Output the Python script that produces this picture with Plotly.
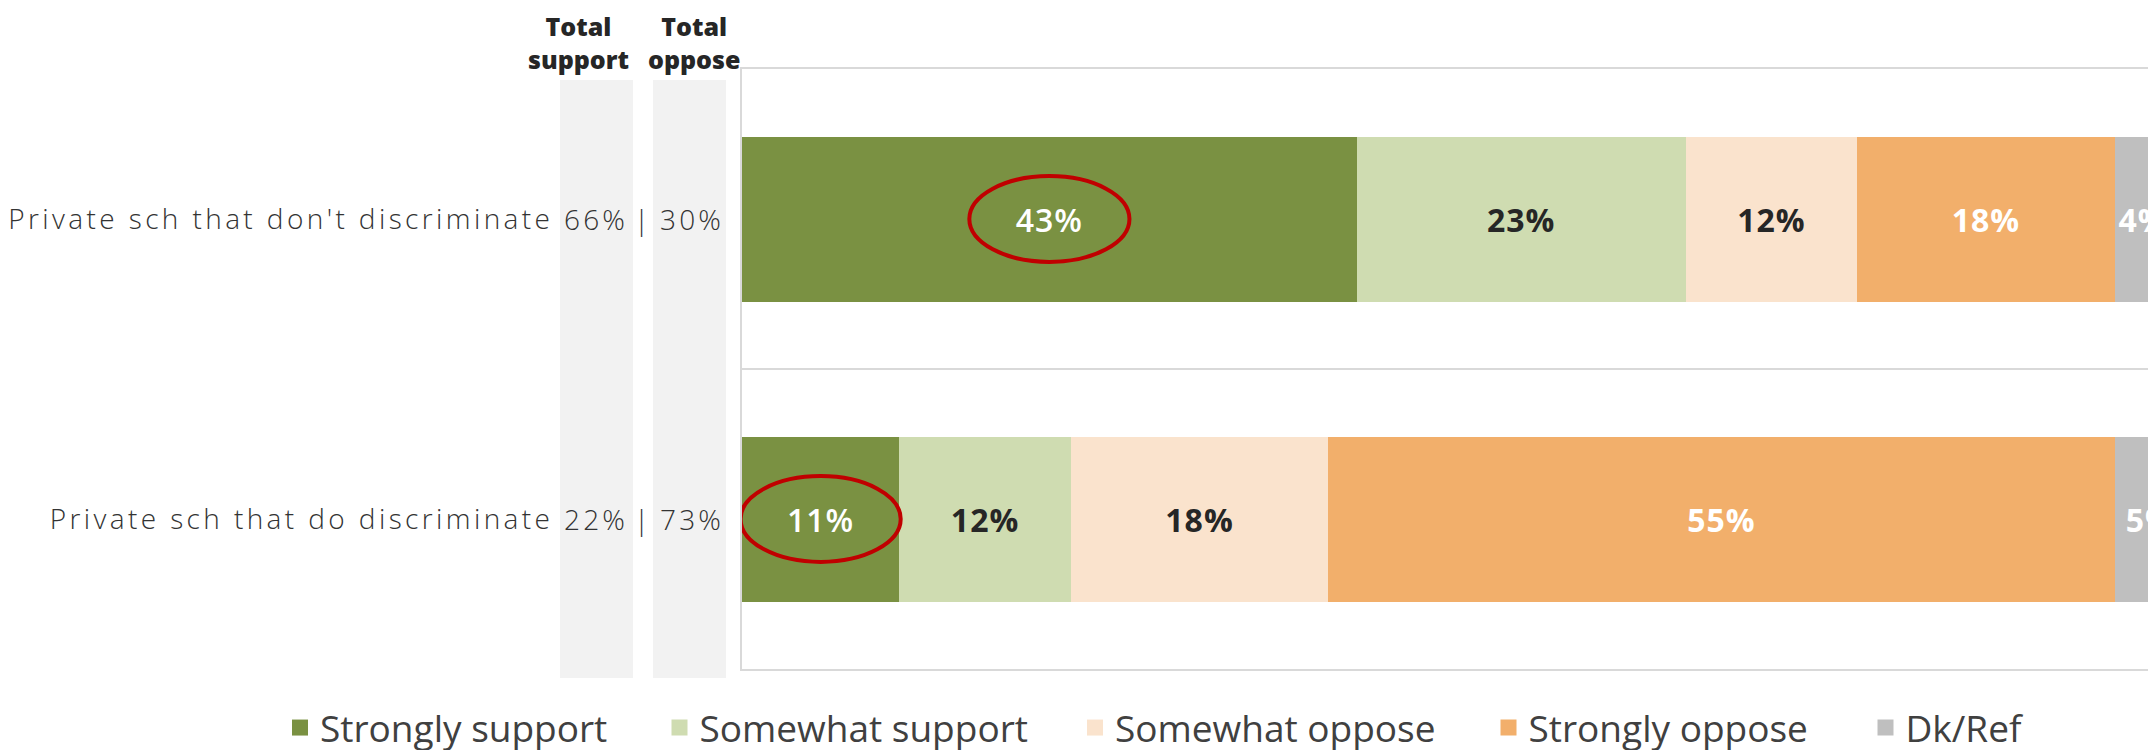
import plotly.graph_objects as go

# ---------------- data ----------------
categories = ["Private sch that don't discriminate", "Private sch that do discriminate"]
total_support = ["66%", "22%"]
total_oppose = ["30%", "73%"]

series_names = ["Strongly support", "Somewhat support", "Somewhat oppose", "Strongly oppose", "Dk/Ref"]
strongly_support = [43, 11]
somewhat_support = [23, 12]
somewhat_oppose = [12, 18]
strongly_oppose = [18, 55]
dk_ref = [4, 5]
series_values = [strongly_support, somewhat_support, somewhat_oppose, strongly_oppose, dk_ref]

header_support = "Total<br>support"
header_oppose = "Total<br>oppose"

# ---------------- style ----------------
colors = ["#7A9142", "#CFDCB1", "#FAE3CD", "#F2AF6B", "#BFBFBF"]
label_colors = ["#FFFFFF", "#262626", "#262626", "#FFFFFF", "#FFFFFF"]
legend_centers = [300, 679.5, 1095, 1508.5, 1885.5]   # window px of legend symbols

PAGE_OFF = 8                      # default body margin of the html page
W, H = 2156 - PAGE_OFF, 750 - PAGE_OFF
PLOT_L, PLOT_T, PLOT_B = 742, 69, 669   # window px
ML, MT = PLOT_L - PAGE_OFF, PLOT_T - PAGE_OFF
MB = H - (PLOT_B - PAGE_OFF)
plot_w = W - ML
plot_h = H - MT - MB
x_max = 98.9

font_main = "Open Sans"
grid_col = "#D9D9D9"
text_col = "#333333"


def spaced(t, px):
    return f"<span style='letter-spacing:{px}px'>{t}</span>"


def px_x(px):
    return (px - PLOT_L) / plot_w


def px_y(py):
    return (PLOT_B - py) / plot_h


fig = go.Figure()

for i, (name, vals) in enumerate(zip(series_names, series_values)):
    if i == 0:
        tf = dict(family=font_main, size=32, color=label_colors[i], weight=600)
    else:
        tf = dict(family=font_main, size=32, color=label_colors[i], weight=700)
    fig.add_trace(go.Bar(
        y=categories, x=vals, orientation="h", name=name,
        marker=dict(color=colors[i], line=dict(width=0)),
        text=[spaced(f"{v}%", 1) for v in vals], textposition="inside",
        insidetextanchor="middle", textangle=0, textfont=tf,
        width=0.55, showlegend=False, hoverinfo="skip",
    ))

# legend entries (one legend per entry so each sits where the reference has it)
legend_layouts = {}
for i, name in enumerate(series_names):
    lid = "legend" if i == 0 else f"legend{i + 1}"
    fig.add_trace(go.Scatter(
        x=[None], y=[None], mode="markers", name=name, legend=lid,
        marker=dict(symbol="square", size=21, color=colors[i]),
        showlegend=True,
    ))
    legend_layouts[lid] = dict(
        orientation="h", x=px_x(legend_centers[i] - 20), xanchor="left",
        y=px_y(728), yanchor="middle", itemsizing="trace",
        font=dict(family=font_main, size=37, color="#404040"),
        bgcolor="rgba(0,0,0,0)", borderwidth=0)

shapes = []
for x0, x1 in [(560, 633), (653, 726)]:
    shapes.append(dict(type="rect", xref="paper", yref="paper",
                       x0=px_x(x0), x1=px_x(x1), y0=px_y(678), y1=px_y(80),
                       fillcolor="#F2F2F2", line=dict(width=0), layer="below"))
shapes.append(dict(type="line", xref="paper", yref="y", x0=0, x1=1, y0=0.5, y1=0.5,
                   line=dict(color=grid_col, width=2), layer="below"))
for idx, v in enumerate(strongly_support):
    c = v / 2
    shapes.append(dict(type="circle", xref="x", yref="y",
                       x0=c - 5.6, x1=c + 5.6, y0=idx - 0.143, y1=idx + 0.143,
                       line=dict(color="#C00000", width=4)))

annotations = []
for idx, cat in enumerate(categories):
    for txt, cx in [(total_support[idx], 595.5), ("|", 643), (total_oppose[idx], 691.5)]:
        annotations.append(dict(
            xref="paper", yref="y", x=px_x(cx), y=idx, text=spaced(txt, 3.2),
            showarrow=False, xanchor="center", yanchor="middle",
            font=dict(family=font_main, size=28, color=text_col, weight=300)))
for txt, cx in [(header_support, 578), (header_oppose, 694)]:
    annotations.append(dict(
        xref="paper", yref="paper", x=px_x(cx), y=px_y(42),
        text=txt, showarrow=False, xanchor="center", yanchor="middle",
        font=dict(family=font_main, size=25, color="#262626", weight=800)))

fig.update_layout(
    template="none",
    width=W, height=H,
    margin=dict(l=ML, r=0, t=MT, b=MB, autoexpand=False),
    paper_bgcolor="white", plot_bgcolor="white",
    barmode="stack",
    shapes=shapes, annotations=annotations,
    showlegend=True,
    xaxis=dict(range=[0, x_max], showticklabels=False, showgrid=False, zeroline=False,
               showline=True, mirror=True, linecolor=grid_col, linewidth=2,
               ticks="", fixedrange=True),
    yaxis=dict(type="category", categoryorder="array", categoryarray=categories,
               range=[1.5, -0.5], tickmode="array", tickvals=categories,
               ticktext=[spaced(c, 3.4) for c in categories],
               tickfont=dict(family=font_main, size=28, color=text_col, weight=300),
               ticks="", ticklabelstandoff=181, showgrid=False, zeroline=False,
               showline=True, linecolor=grid_col, linewidth=2, fixedrange=True),
    **legend_layouts,
)

fig.write_html("out.html")
